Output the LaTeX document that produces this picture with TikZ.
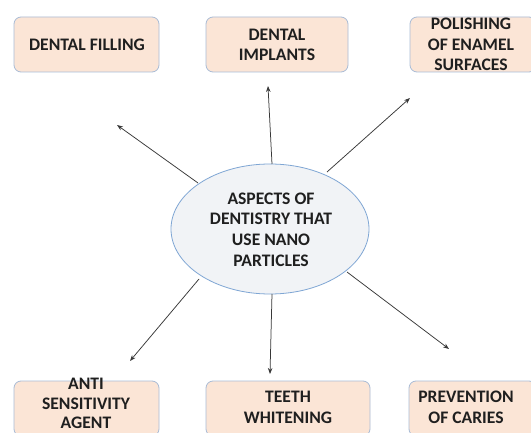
\documentclass[tikz,border=0pt]{standalone}
\usepackage{fontspec}
\setmainfont{Carlito}
\usetikzlibrary{arrows.meta}
\definecolor{boxfill}{HTML}{FBE5D6}
\definecolor{boxline}{HTML}{A9BCD6}
\definecolor{ellfill}{HTML}{F1F3F6}
\definecolor{ellline}{HTML}{7FA6D4}
\definecolor{arr}{HTML}{383838}
\tikzset{
  x=1pt, y=-1pt,
  box/.style={draw=boxline, line width=0.8pt, fill=boxfill, rounded corners=7pt},
  lbl/.style={align=center, font=\fontsize{17.6}{20.7}\selectfont\bfseries, text=black!88, inner sep=0pt},
  conn/.style={draw=arr, line width=0.75pt, -{Stealth[length=6pt,width=4.5pt]}}
}
\begin{document}
\begin{tikzpicture}
\clip (0,0) rectangle (531,433);
\fill[white] (0,0) rectangle (531,433);
% boxes
\draw[box] (14,17) rectangle (159,72);
\draw[box] (206,17) rectangle (348,72);
\draw[box] (410,17) rectangle (536,72);
\draw[box] (14,381) rectangle (159,436);
\draw[box] (206,381) rectangle (370,436);
\draw[box] (409,381) rectangle (536,436);
% labels
\node[lbl] (fill) at (87,44.5) {DENTAL FILLING};
\node[lbl] (impl) at (277,45) {DENTAL\\IMPLANTS};
\node[lbl] (pol) at (471,44.5) {POLISHING\\OF ENAMEL\\SURFACES};
\node[lbl, font=\fontsize{17.6}{19.8}\selectfont\bfseries] (anti) at (86,403.5) {ANTI\\SENSITIVITY\\AGENT};
\node[lbl] (teeth) at (288,407.5) {TEETH\\WHITENING};
\node[lbl] (prev) at (466,407.5) {PREVENTION\\OF CARIES};
% ellipse
\draw[draw=ellline, line width=0.8pt, fill=ellfill] (270,229) ellipse [x radius=99, y radius=65];
\node[lbl] (center) at (271,229.5) {ASPECTS OF\\DENTISTRY THAT\\USE NANO\\PARTICLES};
% connector endpoints
\coordinate (s1) at (198,183); \coordinate (e1) at (117,125);
\coordinate (s2) at (272,164); \coordinate (e2) at (268,86);
\coordinate (s3) at (327,172); \coordinate (e3) at (410,98);
\coordinate (s4) at (199,279); \coordinate (e4) at (130,361);
\coordinate (s5) at (272,294); \coordinate (e5) at (270,374);
\coordinate (s6) at (347,272); \coordinate (e6) at (449,349);
\draw[conn] (s1) -- (e1);
\draw[conn] (s2) -- (e2);
\draw[conn] (s3) -- (e3);
\draw[conn] (s4) -- (e4);
\draw[conn] (s5) -- (e5);
\draw[conn] (s6) -- (e6);
\end{tikzpicture}
\end{document}
